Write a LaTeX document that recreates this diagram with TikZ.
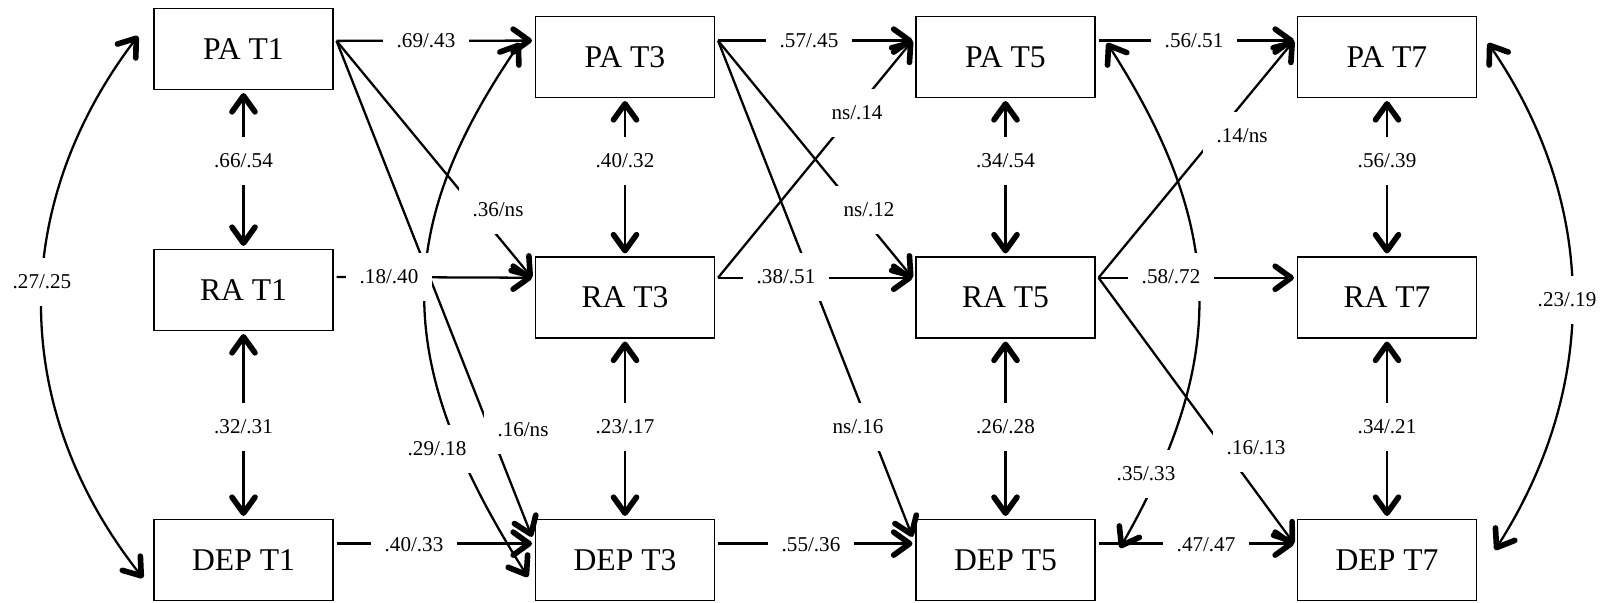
\documentclass[tikz,border=0pt]{standalone}
\usepackage{fontspec}
\setmainfont{Liberation Serif}
\usetikzlibrary{arrows.meta,calc}

\tikzset{
  var/.style={draw,line width=0.6pt,minimum width=3.58cm,minimum height=1.62cm,
    inner sep=0pt,outer sep=2pt,font=\fontsize{18}{22}\selectfont},
  conn/.style={line width=1.3pt},
  coef/.style={fill=white,inner xsep=0.28cm,inner ysep=0.33cm,
    font=\fontsize{12}{14}\selectfont}
}

\begin{document}
\begin{tikzpicture}[x=0.2mm,y=-0.2mm,
  >={Straight Barb[length=3.2mm,width=4.6mm,line width=3.2pt,round]}]
\useasboundingbox (0,0) rectangle (1606,602);

% measures
\node[var] (pa1) at (243.5,49) {PA T1};
\node[var] (ra1) at (243.5,290) {RA T1};
\node[var] (dep1) at (243.5,560) {DEP T1};
\foreach \t/\x in {3/625,5/1005.5,7/1387} {
  \node[var] (pa\t) at (\x,57) {PA T\t};
  \node[var] (ra\t) at (\x,297.5) {RA T\t};
  \node[var] (dep\t) at (\x,560) {DEP T\t};
}

% PA-DEP correlations
\draw[conn,<->] ($(pa1.west)+(-12.5,-13)$) .. controls +(-129,170) and +(-134,-170) .. ($(dep1.west)+(-7.5,18)$);
\draw[conn,<->] ($(pa3.west)+(-12,-14)$) .. controls +(-128,187) and +(-136,-214) .. ($(dep3.west)+(-4,17)$);
\draw[conn,<->] ($(pa5.east)+(8.5,-14)$) .. controls +(120,187) and +(107,-188) .. ($(dep5.east)+(21.5,-12)$);
\draw[conn,<->] ($(pa7.east)+(8,-14)$) .. controls +(111,162) and +(104,-163) .. ($(dep7.east)+(15,-10)$);

% cross-lagged paths
\draw[conn,->] (pa1.5) -- (ra3.168);
\draw[conn,->] (pa1.5) -- (dep3.166);
\draw[conn,->] (pa3.10) -- (ra5.168);
\draw[conn,->] (pa3.10) -- (dep5.166);
\draw[conn,->] (ra3.12) -- (pa5.170);
\draw[conn,->] (ra5.12) -- (pa7.170);
\draw[conn,->] (ra5.12) -- (dep7.170);

% stability paths
\draw[conn,->] (pa1.5) -- (pa3.170);
\draw[conn,->] (pa3.10) -- (pa5.170);
\draw[conn,->] (pa5.10) -- (pa7.170);
\draw[conn,->] (ra1.8) -- (ra3.168);
\draw[conn,->] (ra3.12) -- (ra5.168);
\draw[conn,->] (ra5.12) -- (ra7.168);
\draw[conn,->] (dep1.10) -- (dep3.170);
\draw[conn,->] (dep3.10) -- (dep5.170);
\draw[conn,->] (dep5.10) -- (dep7.170);

% within-time correlations
\foreach \t in {1,3,5,7} {
  \draw[conn,<->] (pa\t) -- (ra\t);
  \draw[conn,<->] (ra\t) -- (dep\t);
}

% coefficients
\node[coef] (c13pa) at (426,41) {.69/.43};
\node[coef] (c35pa) at (809,41) {.57/.45};
\node[coef] (c57pa) at (1194,41) {.56/.51};
\node[coef] (c13ra) at (389,277) {.18/.40};
\node[coef] (c35ra) at (786,277) {.38/.51};
\node[coef] (c57ra) at (1171,277) {.58/.72};
\node[coef] (c13dep) at (414,545) {.40/.33};
\node[coef] (c35dep) at (811,545) {.55/.36};
\node[coef] (c57dep) at (1206,545) {.47/.47};
\node[coef] (r1a) at (243.5,161) {.66/.54};
\node[coef] (r1b) at (243.5,427) {.32/.31};
\node[coef] (r3a) at (625,161) {.40/.32};
\node[coef] (r3b) at (625,427) {.23/.17};
\node[coef] (r5a) at (1005.5,161) {.34/.54};
\node[coef] (r5b) at (1005.5,427) {.26/.28};
\node[coef] (r7a) at (1387,161) {.56/.39};
\node[coef] (r7b) at (1387,427) {.34/.21};
\node[coef] (x1ra) at (498,210) {.36/ns};
\node[coef] (x1dep) at (523,430) {.16/ns};
\node[coef] (x3pa) at (857,113) {ns/.14};
\node[coef] (x3ra) at (869,210) {ns/.12};
\node[coef] (x3dep) at (858,427) {ns/.16};
\node[coef] (x5pa) at (1242,136) {.14/ns};
\node[coef] (x5dep) at (1256,448) {.16/.13};
\node[coef] (k1) at (42,282) {.27/.25};
\node[coef] (k3) at (437,449) {.29/.18};
\node[coef] (k5) at (1146,474) {.35/.33};
\node[coef] (k7) at (1567,300) {.23/.19};
\end{tikzpicture}
\end{document}
